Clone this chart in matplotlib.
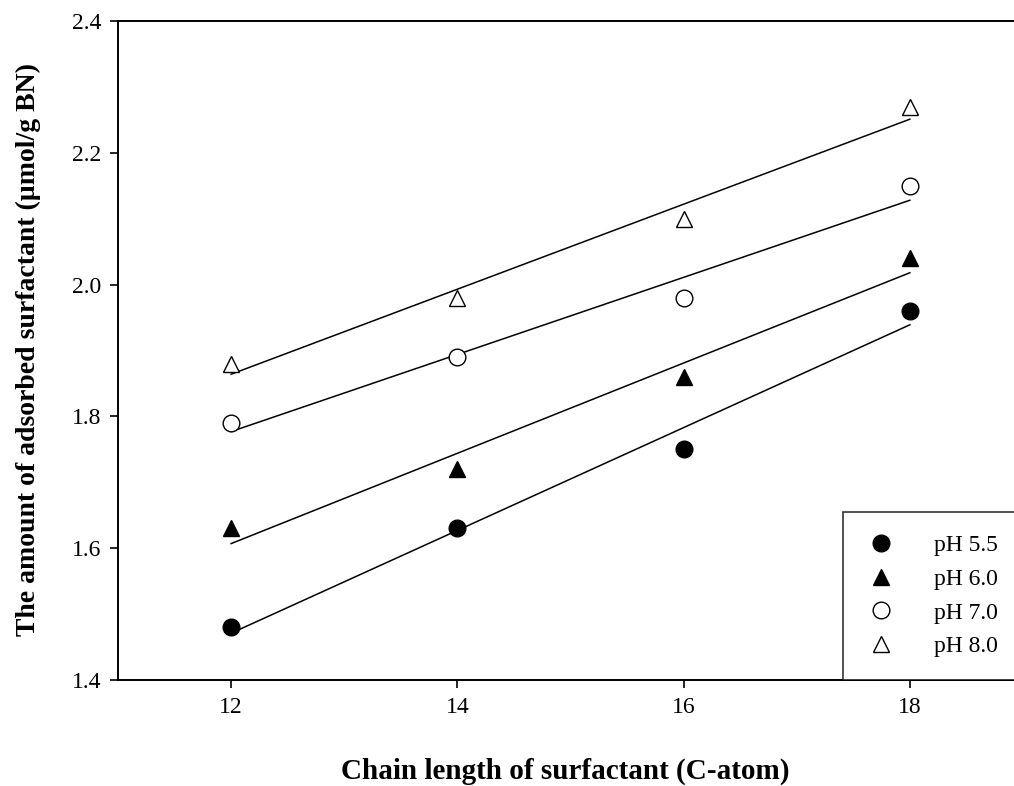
import numpy as np
import matplotlib
matplotlib.use("Agg")
import matplotlib.pyplot as plt
from matplotlib.lines import Line2D

chain_length = [12, 14, 16, 18]
ph_labels = ["pH 5.5", "pH 6.0", "pH 7.0", "pH 8.0"]
ph55 = [1.48, 1.63, 1.75, 1.96]
ph60 = [1.63, 1.72, 1.86, 2.04]
ph70 = [1.79, 1.89, 1.98, 2.15]
ph80 = [1.88, 1.98, 2.10, 2.27]
series = [ph55, ph60, ph70, ph80]
x_ticks = [12, 14, 16, 18]
y_ticks = [1.4, 1.6, 1.8, 2.0, 2.2, 2.4]

plt.rcParams['font.family'] = ['Liberation Serif', 'DejaVu Serif']

fig = plt.figure(figsize=(10.14, 7.86), dpi=100)
W, H = 1014, 786
ax = fig.add_axes([118 / W, 1 - 680 / H, (1023 - 118) / W, (680 - 21) / H])

styles = [
    dict(marker='o', mfc='black', mec='black', ms=12),
    dict(marker='^', mfc='black', mec='black', ms=11),
    dict(marker='o', mfc='white', mec='black', ms=12, mew=1.0),
    dict(marker='^', mfc='white', mec='black', ms=11, mew=1.0),
]

x = np.array(chain_length, dtype=float)
handles = []
for ys, st, lab in zip(series, styles, ph_labels):
    y = np.array(ys)
    k, b = np.polyfit(x, y, 1)
    xx = np.array([x.min(), x.max()])
    ax.plot(xx, k * xx + b, color='black', lw=1.1, zorder=2)
    ax.plot(x, y, ls='none', zorder=3, **st)
    handles.append(Line2D([], [], ls='none', label=lab, **st))

ax.set_xlim(11, 19)
ax.set_ylim(1.4, 2.4)
ax.set_xticks(x_ticks)
ax.set_yticks(y_ticks)
ax.set_xticklabels([str(t) for t in x_ticks])
ax.set_yticklabels([f"{t:.1f}" for t in y_ticks])
ax.tick_params(direction='out', length=6, width=1.2, labelsize=17, colors='black', pad=6)
ax.spines['right'].set_visible(False)
for s in ['left', 'bottom', 'top']:
    ax.spines[s].set_linewidth(1.4)

fig.text(28 / W, 1 - 350 / H, "The amount of adsorbed surfactant (\u00b5mol/g BN)",
         rotation=90, ha='center', va='center', fontsize=20, fontweight='bold')
fig.text(565 / W, 1 - 771 / H, "Chain length of surfactant (C-atom)",
         ha='center', va='center', fontsize=21, fontweight='bold')

leg = fig.legend(handles=handles, loc='upper left', bbox_to_anchor=(843 / W, 1 - 512 / H),
                 bbox_transform=fig.transFigure, frameon=True, fancybox=False,
                 edgecolor='black', fontsize=17, borderaxespad=0, handlelength=1.3,
                 handletextpad=1.6, labelspacing=0.52, borderpad=0.95)
leg.get_frame().set_linewidth(1.2)

fig.savefig("out.png", dpi=100)
